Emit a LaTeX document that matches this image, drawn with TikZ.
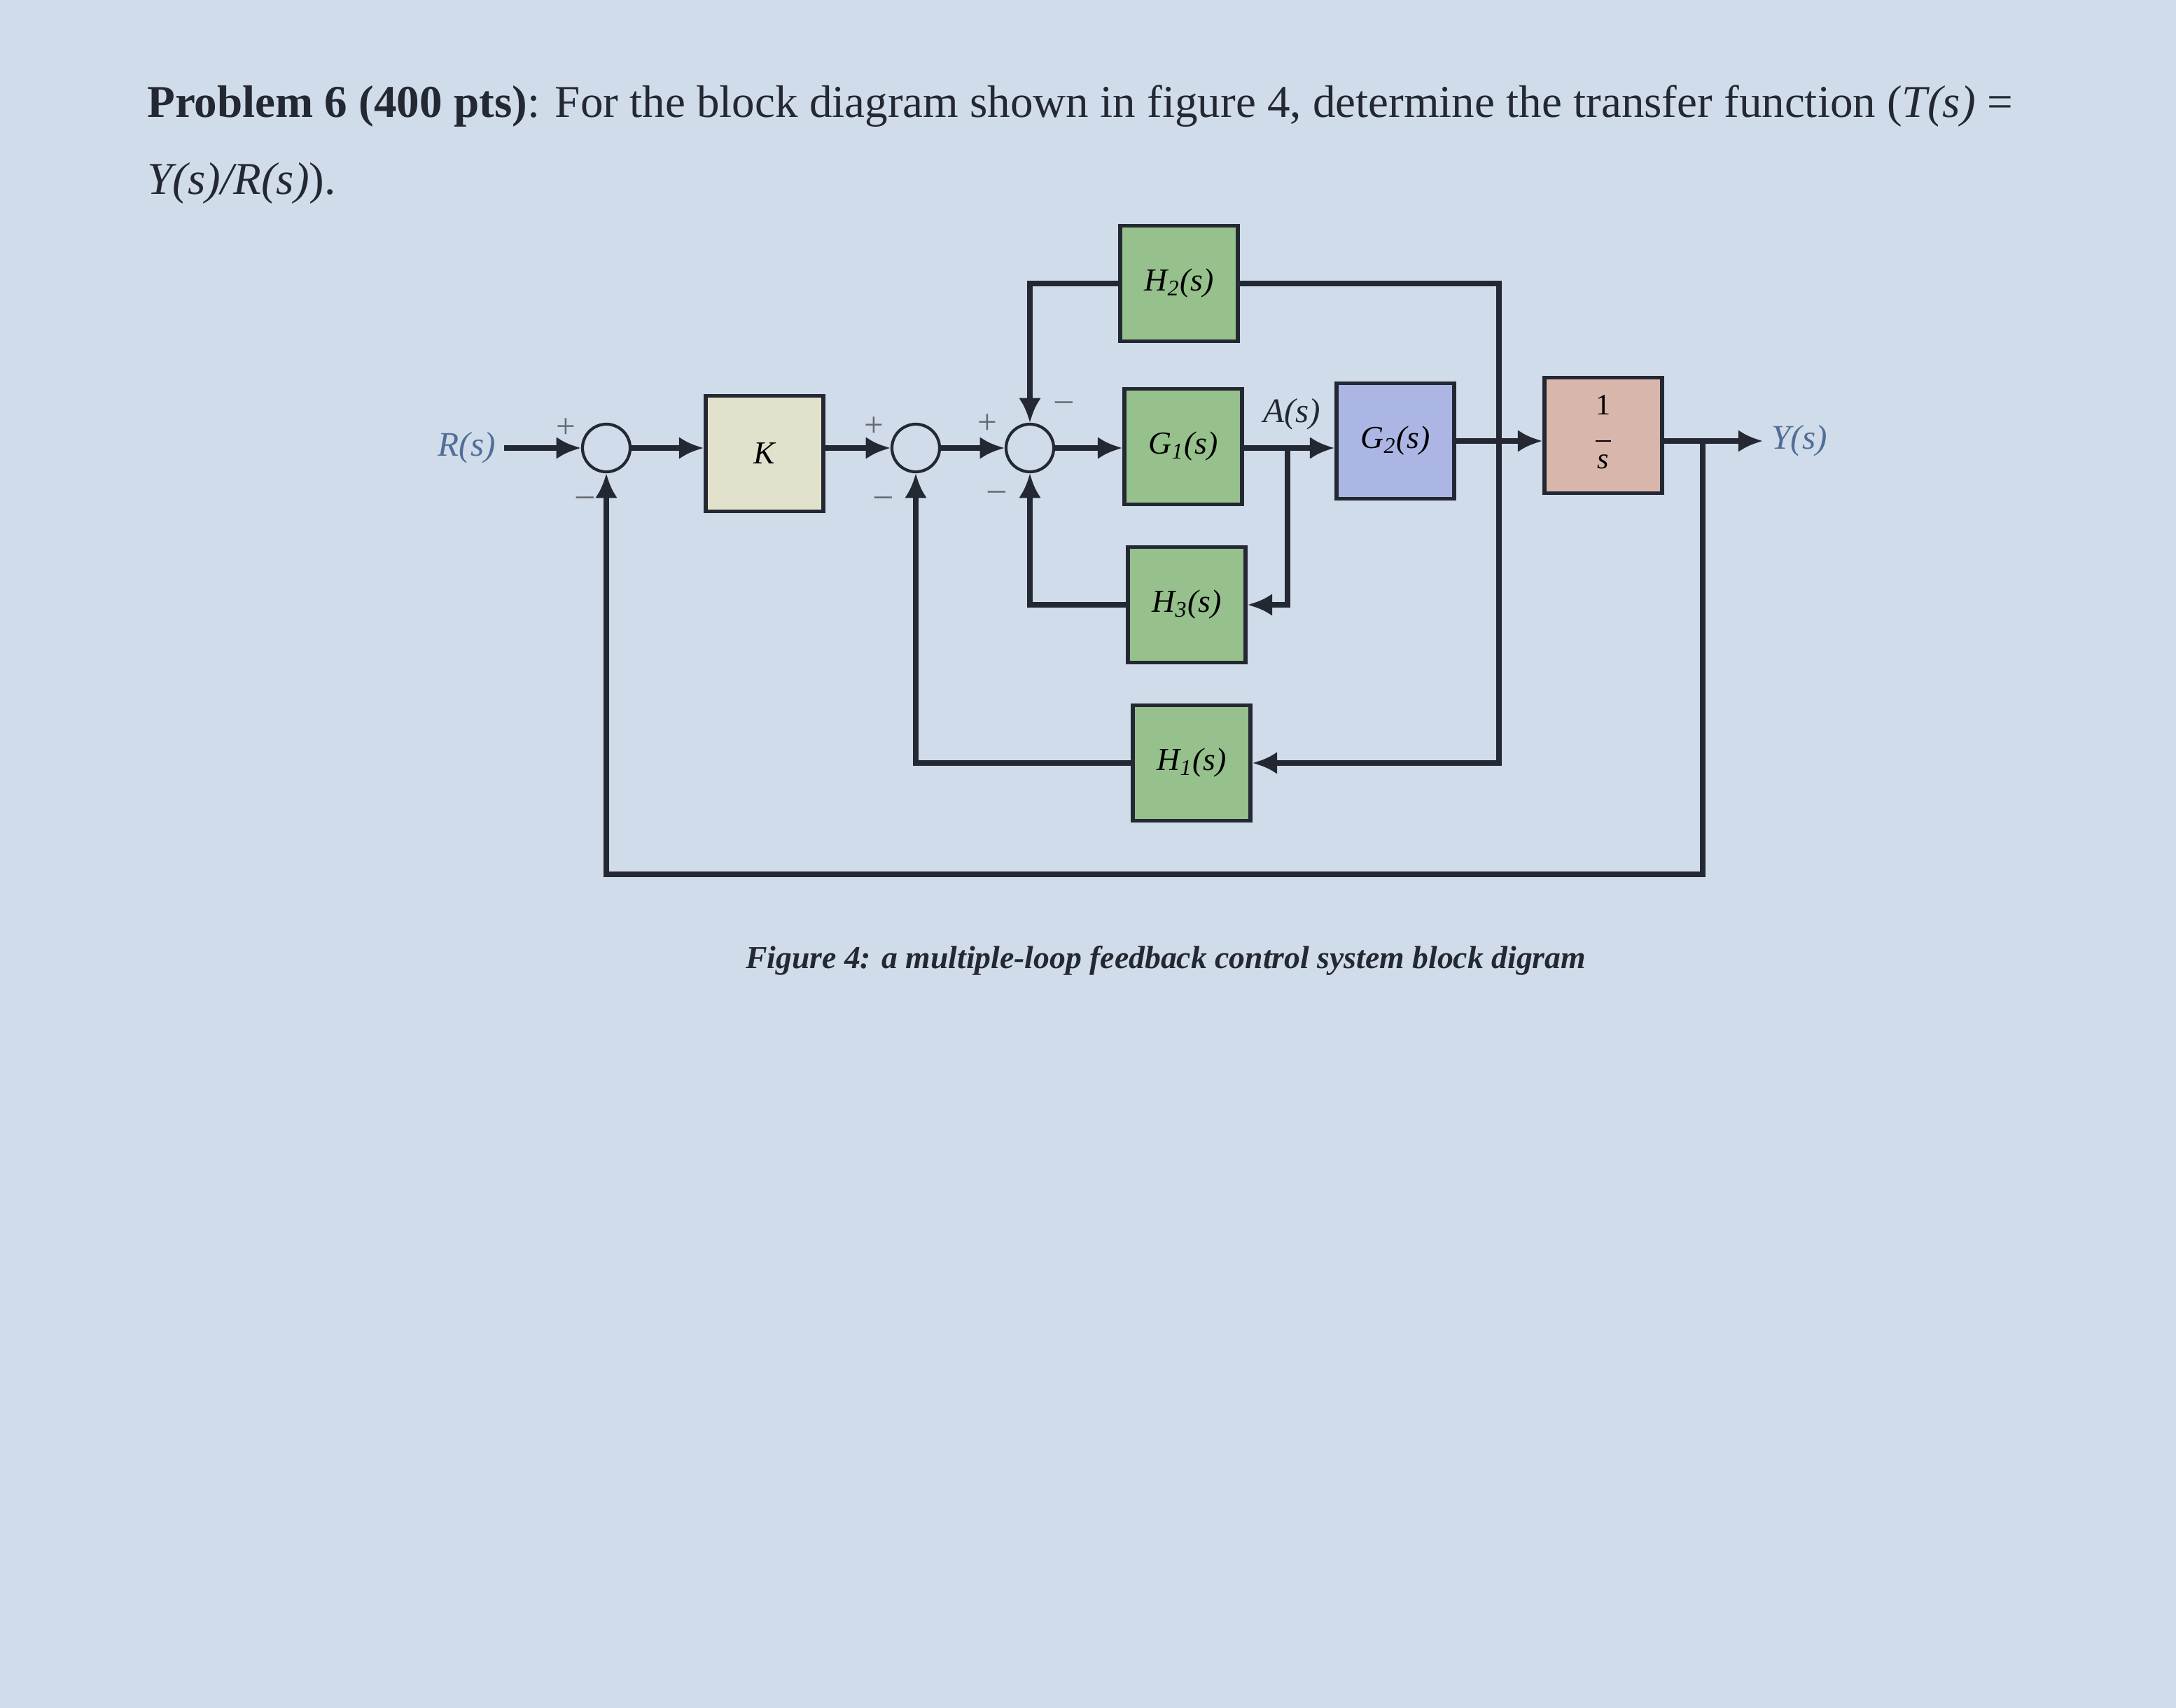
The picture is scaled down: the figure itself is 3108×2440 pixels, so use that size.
\documentclass[tikz,border=0pt]{standalone}
\usepackage{fontspec}
\setmainfont{Liberation Serif}
\usetikzlibrary{arrows.meta}
\definecolor{bg}{RGB}{208,220,234}
\definecolor{kc}{RGB}{226,226,204}
\definecolor{gc}{RGB}{150,192,140}
\definecolor{bc}{RGB}{172,182,228}
\definecolor{pc}{RGB}{216,182,172}
\definecolor{ink}{RGB}{35,40,50}
\definecolor{lab}{RGB}{80,110,150}
\begin{document}
\begin{tikzpicture}[x=0.01cm,y=-0.01cm,
  blk/.style={draw=ink,line width=1.6pt,minimum width=1.68cm,minimum height=1.65cm,inner sep=0pt,font=\fontsize{13}{16}\selectfont\itshape},
  sumn/.style={draw=ink,circle,line width=1.2pt,minimum size=0.68cm,inner sep=0pt},
  ln/.style={draw=ink,line width=2.4pt},
  ar/.style={ln,-{Latex[length=10pt,width=9pt]}},
  sg/.style={font=\fontsize{14}{16}\selectfont,text=ink!70}]
\useasboundingbox (0,0) rectangle (3108,2440);
\fill[bg] (0,0) rectangle (3108,2440);
\node[anchor=west,font=\fontsize{18.5}{22}\selectfont,text=ink] (t1) at (198,152) {\textbf{Problem 6 (400 pts)}: For the block diagram shown in figure 4, determine the transfer function (\textit{T(s)} =};
\node[anchor=west,font=\fontsize{18.5}{22}\selectfont,text=ink] (t2) at (198,262) {\textit{Y(s)/R(s)}).};
\node[sumn] (s1) at (866,640) {};
\node[sumn] (s2) at (1308,640) {};
\node[sumn] (s3) at (1471,640) {};
\node[blk,fill=kc] (K) at (1092,648) {K};
\node[blk,fill=gc] (H2) at (1684,405) {H\textsubscript{2}(s)};
\node[blk,fill=gc] (G1) at (1690,638) {G\textsubscript{1}(s)};
\node[blk,fill=bc] (G2) at (1993,630) {G\textsubscript{2}(s)};
\node[blk,fill=pc,font=\fontsize{12}{13}\selectfont] (I) at (2290,622) {\begin{tabular}{@{}c@{}}1\\[-2pt]\rule{6pt}{0.6pt}\\[-2pt]\textit{s}\end{tabular}};
\node[blk,fill=gc] (H3) at (1695,864) {H\textsubscript{3}(s)};
\node[blk,fill=gc] (H1) at (1702,1090) {H\textsubscript{1}(s)};
\node[font=\fontsize{14}{17}\selectfont,text=lab,anchor=east] (R) at (720,640) {\textit{R(s)}};
\node[font=\fontsize{14}{17}\selectfont,text=lab,anchor=west] (Y) at (2518,630) {\textit{Y(s)}};
\node[font=\fontsize{14}{17}\selectfont\itshape,text=ink] (A) at (1845,592) {A(s)};
\coordinate (a) at (1839,640);
\coordinate (b) at (2141,630);
\coordinate (c) at (2432,630);
\draw[ar] (R) -- (s1);
\draw[ar] (s1) -- (K.west|-s1);
\draw[ar] (K.east|-s2) -- (s2);
\draw[ar] (s2) -- (s3);
\draw[ar] (s3) -- (G1.west|-s3);
\draw[ln] (G1.east|-a) -- (a);
\draw[ar] (a) -- (G2.west|-a);
\draw[ar] (G2.east|-b) -- (I.west|-b);
\draw[ar] (I.east|-c) -- (Y);
\draw[ar] (a) |- (H3);
\draw[ar] (H3) -| (s3);
\draw[ar] (H2) -| (s3);
\draw[ln] (H2) -| (b);
\draw[ar] (b) |- (H1);
\draw[ar] (H1) -| (s2);
\draw[ar] (c) |- (866,1249) -- (s1);
\node[sg] at (808,612) {+};
\node[sg] at (836,716) {--};
\node[sg] at (1248,610) {+};
\node[sg] at (1262,716) {--};
\node[sg] at (1410,606) {+};
\node[sg] at (1520,580) {--};
\node[sg] at (1424,708) {--};
\node[font=\fontsize{13}{16}\selectfont\bfseries\itshape,text=ink] (cap) at (1665,1372) {Figure 4: a multiple-loop feedback control system block digram};
\end{tikzpicture}
\end{document}
